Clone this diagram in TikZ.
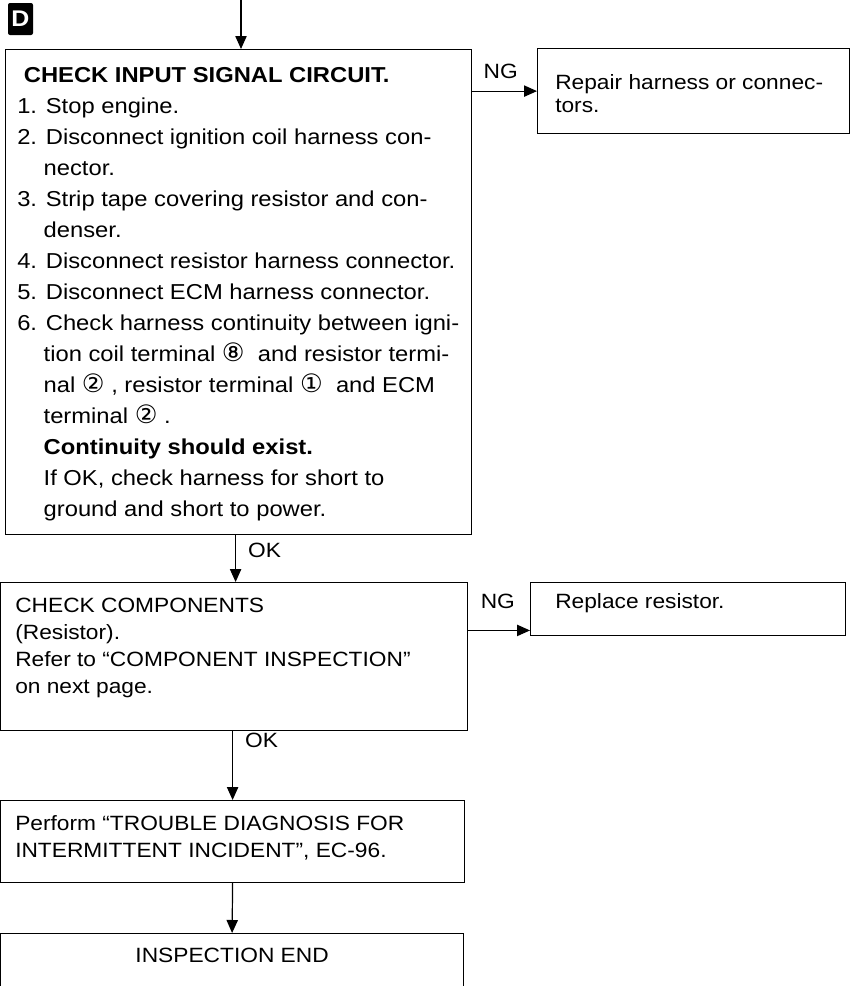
\documentclass[tikz,border=0pt]{standalone}
\usepackage{fontspec}
\setmainfont{Liberation Sans}[FakeStretch=1.1]
\newfontfamily\circfont{DejaVu Sans}
\usetikzlibrary{positioning,arrows.meta}
\newcommand{\cnum}[1]{{\circfont\fontsize{19}{14}\selectfont#1}}
\newcommand{\hang}{\hphantom{0.\ }}
\tikzset{
  frame/.style={draw,line width=.9pt,inner sep=0pt,anchor=north west},
  txt/.style={inner sep=0pt,align=left},
  tag/.style={fill=black,text=white,rounded corners=1.5pt,inner sep=0pt,
    minimum width=18.75pt,minimum height=24pt,font=\bfseries\fontsize{17}{17}\selectfont},
  arr/.style={line width=.9pt,-{Triangle[length=9.75pt,width=8.5pt]}},
  lbl/.style={inner sep=4pt,font=\fontsize{15.5}{15.5}\selectfont},
}

\begin{document}
\begin{tikzpicture}[x=.75pt,y=-.75pt]
\clip (0,0) rectangle (854,986);
% frames
\node[frame,minimum width=349.5pt,minimum height=363.75pt] (sig) at (5,49) {};
\node[frame,minimum width=234pt,minimum height=63.75pt] (rep) at (537,48) {};
\node[frame,minimum width=350.25pt,minimum height=111pt] (comp) at (0,582) {};
\node[frame,minimum width=236.25pt,minimum height=39.75pt] (repl) at (530,582) {};
\node[frame,minimum width=348pt,minimum height=61.5pt] (perf) at (0,800) {};
\node[frame,minimum width=347.25pt,minimum height=60pt] (endb) at (0,933) {};
\node[tag] (dtag) at (20.5,19) {D};

% texts
\node[txt,below right=13.5pt and 9pt of sig.north west,
  font={\fontsize{16.2}{23.25}\selectfont}] (sigtxt) {%
  \hspace*{5pt}\textbf{CHECK INPUT SIGNAL CIRCUIT.}\\
  1. Stop engine.\\
  2. Disconnect ignition coil harness con-\\
  \hang nector.\\
  3. Strip tape covering resistor and con-\\
  \hang denser.\\
  4. Disconnect resistor harness connector.\\
  5. Disconnect ECM harness connector.\\
  6. Check harness continuity between igni-\\
  \hang tion coil terminal \cnum{⑧}\ \ and resistor termi-\\
  \hang nal \cnum{②}\ , resistor terminal \cnum{①}\ \ and ECM\\
  \hang terminal \cnum{②}\ .\\
  \hang\textbf{Continuity should exist.}\\
  \hang If OK, check harness for short to\\
  \hang ground and short to power.};
\node[txt,below right=19.5pt and 13.5pt of rep.north west,
  font={\fontsize{15.5}{17.25}\selectfont}] (reptxt) {%
  Repair harness or connec-\\tors.};
\node[txt,below right=12pt and 11.25pt of comp.north west,
  font={\fontsize{15.5}{20.25}\selectfont}] (comptxt) {%
  CHECK COMPONENTS\\
  (Resistor).\\
  Refer to “COMPONENT INSPECTION”\\
  on next page.};
\node[txt,below right=8.25pt and 18.75pt of repl.north west,
  font={\fontsize{15.5}{15.5}\selectfont}] (repltxt) {Replace resistor.};
\node[txt,below right=11.25pt and 11.25pt of perf.north west,
  font={\fontsize{15.5}{20.25}\selectfont}] (perftxt) {%
  Perform “TROUBLE DIAGNOSIS FOR\\
  INTERMITTENT INCIDENT”, EC-96.};
\node[txt,below=11.25pt of endb.north,
  font={\fontsize{15.5}{15.5}\selectfont}] (endtxt) {INSPECTION END};

% connectors
\coordinate (entry) at (241,0);
\draw[arr] (entry) -- (entry |- sig.north);
\draw[arr] (rep.west -| sig.east) -- node[lbl,above=5pt,pos=.44] (ng1) {NG} (rep.west);
\draw[arr] ([xshift=-2.25pt]sig.south) -- node[lbl,right=5pt,pos=.33] (ok1) {OK} ([xshift=1.125pt]comp.north);
\coordinate (ngtip) at ([yshift=-16pt]repl.west);
\draw[arr] (ngtip -| comp.east) -- node[lbl,above=12pt,pos=.48] (ng2) {NG} (ngtip);
\draw[arr] ([xshift=-1.125pt]comp.south) -- node[lbl,right=5pt,pos=.14] (ok2) {OK} (perf.north);
\draw[arr] (perf.south) -- (endb.north);
\end{tikzpicture}
\end{document}
